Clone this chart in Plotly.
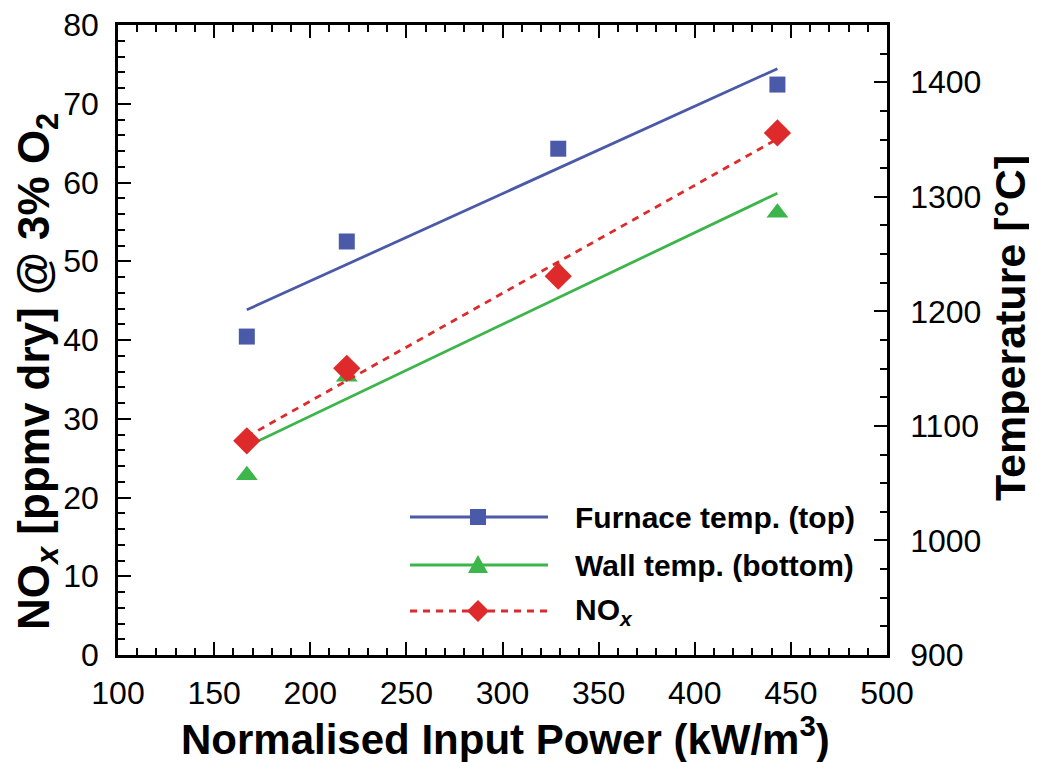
import numpy as np
import plotly.graph_objects as go

# ---- data ----
power = [167, 219, 329, 443]                 # Normalised input power (kW/m^3)
furnace_temp = [1178, 1261, 1342, 1398]      # Furnace temp. (top) [°C]
wall_temp = [1057, 1143, 1235, 1286]         # Wall temp. (bottom) [°C]
nox = [27.2, 36.4, 48.1, 66.3]               # NOx [ppmv dry] @ 3% O2

x_ticks = [100, 150, 200, 250, 300, 350, 400, 450, 500]
nox_ticks = [0, 10, 20, 30, 40, 50, 60, 70, 80]
temp_ticks = [900, 1000, 1100, 1200, 1300, 1400]

BLUE = "#4a5aa9"
GREEN = "#3cb54a"
RED = "#de2a2a"
FONT = "Liberation Sans, Arial, Helvetica, sans-serif"

# page has an 8px body margin: figure is offset by (8, 8)
OFF = 8
W, H = 1037 - OFF, 762 - OFF
PL, PR, PT, PB = 118, 887, 25, 655          # target plot box in window pixels
L, R, T, B = PL - OFF, W - (PR - OFF), PT - OFF, H - (PB - OFF)
PW, PH = PR - PL, PB - PT


def px(xp):
    return (xp - PL) / PW


def py(yp):
    return (PB - yp) / PH


def fit(xs, ys):
    k, c = np.polyfit(xs, ys, 1)
    xx = [min(xs), max(xs)]
    return xx, [k * v + c for v in xx]


fig = go.Figure()

# temperature traces (primary y, right side)
fx, fy = fit(power, furnace_temp)
wx, wy = fit(power, wall_temp)
fig.add_trace(go.Scatter(x=wx, y=wy, mode="lines", line=dict(color=GREEN, width=2.8),
                         showlegend=False, yaxis="y"))
fig.add_trace(go.Scatter(x=power, y=wall_temp, mode="markers",
                         marker=dict(symbol="triangle-up", size=19, color=GREEN),
                         showlegend=False, yaxis="y"))
fig.add_trace(go.Scatter(x=fx, y=fy, mode="lines", line=dict(color=BLUE, width=2.8),
                         showlegend=False, yaxis="y"))
fig.add_trace(go.Scatter(x=power, y=furnace_temp, mode="markers",
                         marker=dict(symbol="square", size=16, color=BLUE),
                         showlegend=False, yaxis="y"))

# NOx traces (overlaying y2, left side, drawn on top)
nx, ny = fit(power, nox)
fig.add_trace(go.Scatter(x=nx, y=ny, mode="lines",
                         line=dict(color=RED, width=2.8, dash="7px,6px"),
                         showlegend=False, yaxis="y2"))
fig.add_trace(go.Scatter(x=power, y=nox, mode="markers",
                         marker=dict(symbol="diamond", size=21, color=RED),
                         showlegend=False, yaxis="y2"))

axis_common = dict(
    ticks="inside", ticklen=13, tickwidth=2, tickcolor="black",
    showline=True, linewidth=2.5, linecolor="black",
    showgrid=False, zeroline=False, ticklabeloverflow="allow",
    tickfont=dict(family=FONT, size=32, color="black"),
)

fig.update_layout(
    width=W, height=H,
    margin=dict(l=L, r=R, t=T, b=B, autoexpand=False),
    paper_bgcolor="white", plot_bgcolor="white",
    showlegend=False,
    xaxis=dict(range=[100, 500], tickvals=x_ticks, mirror="ticks",
               minor=dict(dtick=10, tick0=100, ticks="inside", ticklen=7, tickwidth=1.5,
                          tickcolor="black"),
               ticklabelstandoff=8,
               **axis_common),
    yaxis=dict(range=[900, 1450], tickvals=temp_ticks, side="right",
               minor=dict(dtick=25, tick0=900, ticks="inside", ticklen=7, tickwidth=1.5,
                          tickcolor="black"),
               ticklabelstandoff=14,
               **axis_common),
    yaxis2=dict(range=[0, 80], tickvals=nox_ticks, side="left", overlaying="y",
                minor=dict(dtick=2, tick0=0, ticks="inside", ticklen=7, tickwidth=1.5,
                           tickcolor="black"),
                ticklabelstandoff=10,
                **axis_common),
)

# axis titles
annotations = [
    dict(text="<b>Normalised Input Power (kW/m<sup>3</sup>)</b>", x=px(505), y=py(736),
         xref="paper", yref="paper", showarrow=False, xanchor="center", yanchor="middle",
         font=dict(family=FONT, size=42, color="black")),
    dict(text="<b>NO<sub><i>x</i></sub> [ppmv dry] @ 3% O<sub>2</sub></b>", x=px(37), y=py(372),
         xref="paper", yref="paper", showarrow=False, xanchor="center", yanchor="middle",
         textangle=-90, font=dict(family=FONT, size=44, color="black")),
    dict(text="<b>Temperature [°C]</b>", x=px(1010), y=py(328),
         xref="paper", yref="paper", showarrow=False, xanchor="center", yanchor="middle",
         textangle=-90, font=dict(family=FONT, size=43, color="black")),
]

# legend (drawn manually)
legend_items = [
    ("<b>Furnace temp. (top)</b>", BLUE, "solid", "square", 517),
    ("<b>Wall temp. (bottom)</b>", GREEN, "solid", "triangle", 565),
    ("<b>NO<sub><i>x</i></sub></b>", RED, "dash", "diamond", 611),
]
shapes = []
for label, color, dash, sym, yp in legend_items:
    shapes.append(dict(type="line", xref="paper", yref="paper",
                       x0=px(410), x1=px(548), y0=py(yp), y1=py(yp),
                       line=dict(color=color, width=2.8,
                                 dash="7px,6px" if dash == "dash" else "solid")))
    anchor = dict(xref="paper", yref="paper", xsizemode="pixel", ysizemode="pixel",
                  xanchor=px(478), yanchor=py(yp), fillcolor=color,
                  line=dict(width=0, color=color))
    if sym == "square":
        shapes.append(dict(type="rect", x0=-8, x1=8, y0=-8, y1=8, **anchor))
    elif sym == "triangle":
        shapes.append(dict(type="path", path="M0,10 L-10,-8 L10,-8 Z", **anchor))
    else:
        shapes.append(dict(type="path", path="M0,11 L-11,0 L0,-11 L11,0 Z", **anchor))
    annotations.append(dict(text=label, x=px(573), y=py(yp), xref="paper", yref="paper",
                            showarrow=False, xanchor="left", yanchor="middle",
                            font=dict(family=FONT, size=30, color="black")))

fig.update_layout(annotations=annotations, shapes=shapes)

fig.write_html("out.html")
